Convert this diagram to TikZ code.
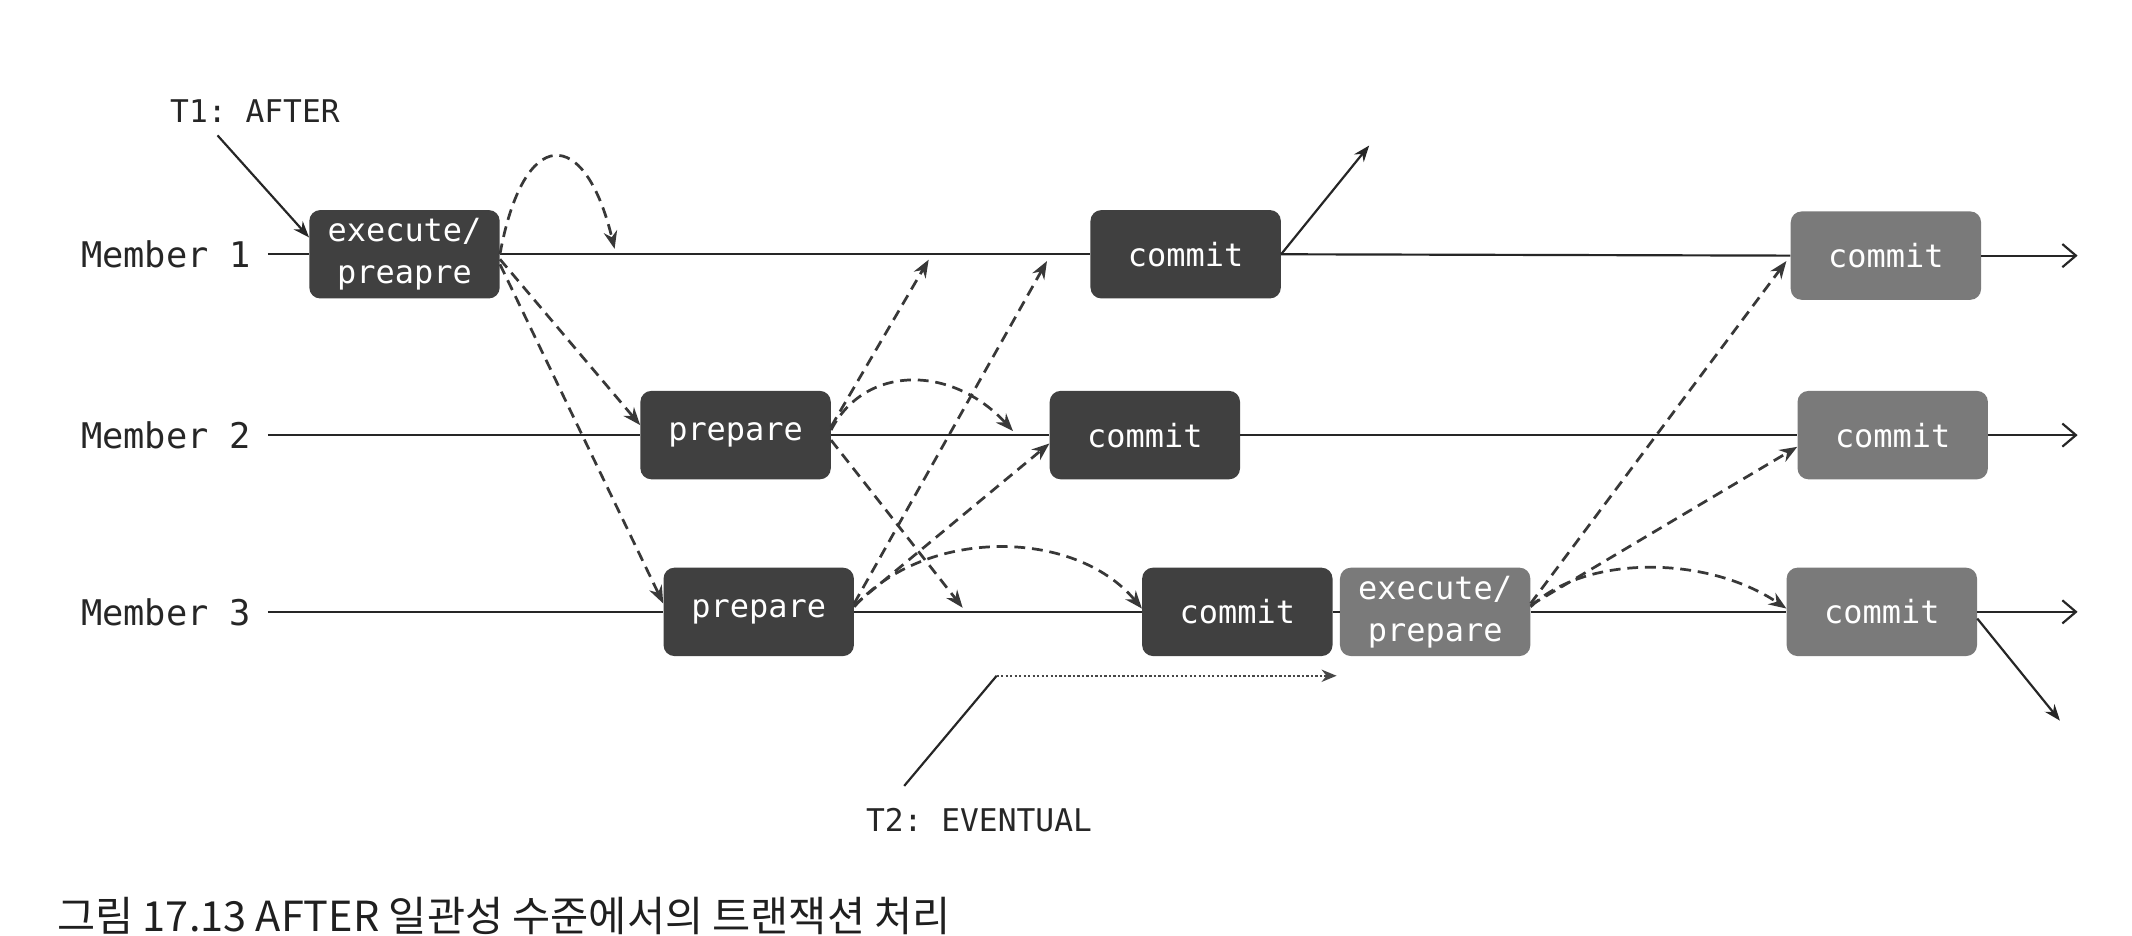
\documentclass[tikz,border=0pt]{standalone}
\usepackage{fontspec}
\setmonofont{DejaVu Sans Mono}
\newfontfamily\cjk{Noto Sans CJK KR}
\usetikzlibrary{arrows.meta,calc}
\begin{document}
\begin{tikzpicture}[x=1pt,y=-1pt,
  lab/.style={font=\ttfamily\fontsize{26}{28}\selectfont, text=black!85, inner sep=0pt},
  box/.style={rounded corners=8pt, minimum width=140pt, minimum height=65pt, inner sep=0pt,
              text=white, font=\ttfamily\fontsize{23.5}{31}\selectfont, align=center},
  dark/.style={box, fill=black!75},
  light/.style={box, fill=black!52},
  life/.style={line width=1.6pt, draw=black!85},
  lifeend/.style={life, -{Straight Barb[length=10pt,width=17pt,line width=1.6pt]}},
  solidarr/.style={line width=1.6pt, draw=black!85, -{Stealth[length=12pt,width=9pt]}},
  msg/.style={line width=2pt, draw=black!78, dash pattern=on 8pt off 5pt,
              -{Stealth[length=13pt,width=10pt]}},
  dotarr/.style={line width=1.7pt, draw=black!72, dash pattern=on 1.7pt off 1.6pt,
              -{Stealth[length=11pt,width=9pt]}},
]
\useasboundingbox[fill=white] (0,0) rectangle (1568,688);

% labels
\node[lab, anchor=east] (l1) at (185,187) {Member 1};
\node[lab, anchor=east] (l2) at (185,320) {Member 2};
\node[lab, anchor=east] (l3) at (185,450) {Member 3};
\node[lab, font=\ttfamily\fontsize{23}{26}\selectfont] (t1) at (187.5,82) {T1: AFTER};
\node[lab, font=\ttfamily\fontsize{23}{26}\selectfont] (t2) at (720,603) {T2: EVENTUAL};

% boxes
\node[dark]  (m1box) at (297.5,187) {execute/\\preapre};
\node[dark]  (c1)    at (872,187)   {commit};
\node[light] (c1b)   at (1387,188)  {commit};
\node[dark]  (p2)    at (541,320)   {prepare};
\node[dark]  (c2)    at (842,320)   {commit};
\node[light] (c2b)   at (1392,320)  {commit};
\node[dark]  (p3)    at (558,450)   {prepare};
\node[dark]  (c3)    at (910,450)   {commit};
\node[light] (e3)    at (1055.5,450){execute/\\prepare};
\node[light] (c3b)   at (1384,450)  {commit};

% free ends
\coordinate (end1) at (1528,188);
\coordinate (end2) at (1528,320);
\coordinate (end3) at (1528,450);
\coordinate (out1) at (1007,107);
\coordinate (out3) at (1515,530);
\coordinate (t2a) at (665,578);
\coordinate (t2k) at (733,497);
\coordinate (t2e) at (983,497);
\coordinate (a1) at (452,183);
\coordinate (d1) at (683,191);
\coordinate (e1) at (745,317);
\coordinate (f1) at (708,447);
\coordinate (g1) at (770,192);

% lifelines
\draw[life, shorten <=12pt] (l1.east) -- (m1box.west);
\draw[life] (m1box.east) -- (c1.west);
\draw[life] (c1.east) -- (c1b.west);
\draw[lifeend] (c1b.east) -- (end1);
\draw[life, shorten <=12pt] (l2.east) -- (p2.west);
\draw[life] (p2.east) -- (c2.west);
\draw[life] (c2.east) -- (c2b.west);
\draw[lifeend] (c2b.east) -- (end2);
\draw[life, shorten <=12pt] (l3.east) -- (p3.west);
\draw[life] (p3.east) -- (c3.west);
\draw[life] (c3.east) -- (e3.west);
\draw[life] (e3.east) -- (c3b.west);
\draw[lifeend] (c3b.east) -- (end3);

% solid arrows
\draw[solidarr] ($(t1.south west)+(35,9)$) -- (m1box.170);
\draw[solidarr] (c1.east) -- (out1);
\draw[solidarr] (c3b.-4) -- (out3);
\draw[line width=1.6pt, draw=black!85] (t2a) -- (t2k);
\draw[dotarr] (t2k) -- (t2e);

% messages from member 1
\draw[msg] (m1box.east) .. controls (385,92) and (430,92) .. (a1);
\draw[msg] (m1box.-3) -- (p2.174);
\draw[msg] (m1box.-6) -- (p3.175);
% messages from member 2 prepare
\draw[msg] (p2.5) -- (d1);
\draw[msg] (p2.3) .. controls (636,268) and (700,268) .. (e1);
\draw[msg] (p2.-3) -- (f1);
% messages from member 3 prepare
\draw[msg] (p3.5) -- (g1);
\draw[msg] (p3.4) -- (c2.185);
\draw[msg] (p3.3) .. controls (680,388) and (790,388) .. (c3.178);
% messages from execute/prepare
\draw[msg, shorten >=5pt] (e3.5) -- (c1b.west);
\draw[msg] (e3.4) -- (c2b.187);
\draw[msg] (e3.3) .. controls (1165,408) and (1255,408) .. (c3b.178);

% caption
\node[anchor=base west, inner sep=0pt, text=black!88, font=\cjk\fontsize{30.5}{32}\selectfont] (cap) at (42,685)
  {그림 17.13 AFTER 일관성 수준에서의 트랜잭션 처리};
\end{tikzpicture}
\end{document}
